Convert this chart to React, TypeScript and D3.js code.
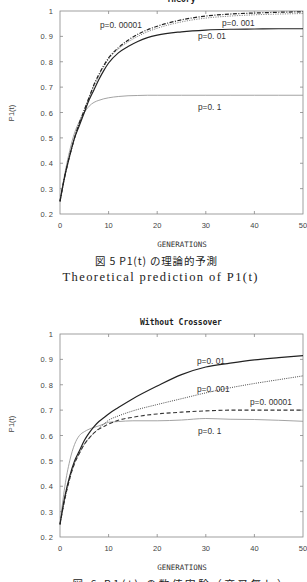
import React from "react";
import * as d3 from "d3";

// ---------- data ----------
const xTicks = [0, 10, 20, 30, 40, 50];
const yTicks = [0.2, 0.3, 0.4, 0.5, 0.6, 0.7, 0.8, 0.9, 1];

// Panel 1: theory
const genTheory = [0, 1, 2, 3, 4, 5, 6, 7, 8, 9, 10, 12, 14, 16, 18, 20, 25, 30, 35, 40, 45, 50];
const theoryP00001 = [0.25, 0.35, 0.43, 0.5, 0.56, 0.61, 0.66, 0.71, 0.75, 0.785, 0.815, 0.855, 0.885, 0.908, 0.926, 0.94, 0.965, 0.98, 0.988, 0.992, 0.995, 0.997];
const theoryP0001 = [0.25, 0.35, 0.43, 0.5, 0.56, 0.61, 0.66, 0.705, 0.745, 0.78, 0.81, 0.85, 0.878, 0.9, 0.918, 0.932, 0.957, 0.972, 0.98, 0.985, 0.988, 0.99];
const theoryP001 = [0.25, 0.35, 0.43, 0.5, 0.55, 0.6, 0.65, 0.69, 0.73, 0.765, 0.795, 0.835, 0.86, 0.88, 0.895, 0.905, 0.918, 0.925, 0.928, 0.929, 0.93, 0.93];
const theoryP01 = [0.25, 0.36, 0.45, 0.52, 0.565, 0.6, 0.625, 0.64, 0.648, 0.654, 0.658, 0.663, 0.666, 0.667, 0.668, 0.668, 0.668, 0.668, 0.668, 0.668, 0.668, 0.668];

// Panel 2: without crossover
const genExp = [0, 1, 2, 3, 4, 5, 6, 7, 8, 9, 10, 12, 15, 20, 25, 30, 35, 40, 45, 50];
const expP001 = [0.25, 0.36, 0.44, 0.5, 0.54, 0.58, 0.61, 0.635, 0.655, 0.67, 0.685, 0.71, 0.745, 0.795, 0.84, 0.87, 0.885, 0.898, 0.907, 0.915];
const expP0001 = [0.25, 0.35, 0.43, 0.49, 0.53, 0.565, 0.59, 0.61, 0.628, 0.645, 0.66, 0.677, 0.697, 0.722, 0.745, 0.768, 0.788, 0.805, 0.82, 0.835];
const expP00001 = [0.25, 0.35, 0.43, 0.49, 0.53, 0.565, 0.59, 0.61, 0.625, 0.635, 0.645, 0.66, 0.672, 0.685, 0.692, 0.697, 0.7, 0.7, 0.7, 0.7];
const expP01 = [0.25, 0.4, 0.5, 0.565, 0.6, 0.615, 0.625, 0.632, 0.638, 0.645, 0.652, 0.655, 0.658, 0.658, 0.661, 0.667, 0.664, 0.663, 0.66, 0.656];

const xLabel = "GENERATIONS";
const yLabel = "P1(t)";

type Series = { gens: number[]; vals: number[]; stroke: string; width: number; dash?: string };
type Lbl = { text: string; x: number; y: number };

const MONO = "'DejaVu Sans Mono', monospace";
const SANS = "'Liberation Sans', Arial, sans-serif";

function Panel(props: {
  yTop: number;
  yBot: number;
  title: string;
  titleY: number;
  series: Series[];
  labels: Lbl[];
  yLabelY: number;
}) {
  const { yTop, yBot, title, titleY, series, labels, yLabelY } = props;
  const x = d3.scaleLinear().domain([0, 50]).range([60, 303]);
  const y = d3.scaleLinear().domain([0.2, 1]).range([yBot, yTop]);
  const fmt = (v: number) => (v === 1 ? "1" : d3.format(".1f")(v).replace(".", ". "));
  return (
    <g>
      <text x={181} y={titleY} textAnchor="middle" fontFamily={MONO} fontWeight="bold" fontSize={8} fill="#222">
        {title}
      </text>
      <rect x={x(0)} y={y(1)} width={x(50) - x(0)} height={y(0.2) - y(1)} fill="none" stroke="#888" strokeWidth={0.8} />
      {xTicks.slice(1, -1).map((t) => (
        <g key={"xt" + t}>
          <line x1={x(t)} x2={x(t)} y1={y(0.2)} y2={y(0.2) - 3} stroke="#888" strokeWidth={0.8} />
          <line x1={x(t)} x2={x(t)} y1={y(1)} y2={y(1) + 3} stroke="#888" strokeWidth={0.8} />
        </g>
      ))}
      {yTicks.slice(1, -1).map((t) => (
        <g key={"yt" + t}>
          <line x1={x(0)} x2={x(0) + 3} y1={y(t)} y2={y(t)} stroke="#888" strokeWidth={0.8} />
          <line x1={x(50)} x2={x(50) - 3} y1={y(t)} y2={y(t)} stroke="#888" strokeWidth={0.8} />
        </g>
      ))}
      {xTicks.map((t) => (
        <text key={"xl" + t} x={x(t)} y={yBot + 14} textAnchor="middle" fontFamily={SANS} fontSize={7.5} fill="#444">
          {t}
        </text>
      ))}
      {yTicks.map((t) => (
        <text key={"yl" + t} x={53} y={y(t) + 3} textAnchor="end" fontFamily={SANS} fontSize={7.5} fill="#444">
          {fmt(t)}
        </text>
      ))}
      <text x={182} y={yBot + 33} textAnchor="middle" fontFamily={MONO} fontSize={7.5} fill="#333">
        {xLabel}
      </text>
      <text
        transform={`translate(14,${yLabelY}) rotate(-90)`}
        textAnchor="middle"
        fontFamily={SANS}
        fontSize={7.5}
        fill="#444"
      >
        {yLabel}
      </text>
      {series.map((s, i) => {
        const line = d3
          .line<number>()
          .x((_, j) => x(s.gens[j]))
          .y((v) => y(v))
          .curve(d3.curveMonotoneX);
        return (
          <path
            key={"s" + i}
            d={line(s.vals) || ""}
            fill="none"
            stroke={s.stroke}
            strokeWidth={s.width}
            strokeDasharray={s.dash}
          />
        );
      })}
      {labels.map((l, i) => (
        <text key={"lb" + i} x={l.x} y={l.y} fontFamily={SANS} fontSize={8.3} fill="#333">
          {l.text}
        </text>
      ))}
    </g>
  );
}

export default function App() {
  return (
    <svg width={307} height={582} style={{ position: "absolute", left: 0, top: 0, background: "#fff" }}>
      <rect width={307} height={582} fill="#fff" />
      <Panel
        yTop={11}
        yBot={214}
        title="Theory"
        titleY={2}
        yLabelY={113}
        series={[
          { gens: genTheory, vals: theoryP01, stroke: "#999", width: 0.9 },
          { gens: genTheory, vals: theoryP0001, stroke: "#888", width: 1, dash: "1.2,1.2" },
          { gens: genTheory, vals: theoryP00001, stroke: "#222", width: 1.2, dash: "4,1.5,1,1.5" },
          { gens: genTheory, vals: theoryP001, stroke: "#222", width: 1.2 },
        ]}
        labels={[
          { text: "p=0. 00001", x: 100, y: 28 },
          { text: "p=0. 001", x: 222, y: 26 },
          { text: "p=0. 01", x: 198, y: 39 },
          { text: "p=0. 1", x: 198, y: 110 },
        ]}
      />
      <text x={156} y={265} textAnchor="middle" fontFamily="'Noto Sans CJK JP', serif" fontSize={10.5} fill="#222" textLength={122}>
        図 5  P1(t) の理論的予測
      </text>
      <text x={160} y={281} textAnchor="middle" fontFamily="'Liberation Serif', serif" fontSize={12.5} fill="#222" textLength={195}>
        Theoretical prediction of P1(t)
      </text>
      <Panel
        yTop={334}
        yBot={537}
        title="Without Crossover"
        titleY={325}
        yLabelY={424}
        series={[
          { gens: genExp, vals: expP01, stroke: "#999", width: 0.9 },
          { gens: genExp, vals: expP0001, stroke: "#333", width: 0.9, dash: "1,1.2" },
          { gens: genExp, vals: expP00001, stroke: "#333", width: 1.1, dash: "4,2.5" },
          { gens: genExp, vals: expP001, stroke: "#222", width: 1.2 },
        ]}
        labels={[
          { text: "p=0. 01", x: 197, y: 364 },
          { text: "p=0. 001", x: 197, y: 392 },
          { text: "p=0. 00001", x: 250, y: 405 },
          { text: "p=0. 1", x: 198, y: 434 },
        ]}
      />
      <text x={180} y={588} textAnchor="middle" fontFamily="'Noto Sans CJK JP', sans-serif" fontSize={10.5} fill="#222" textLength={215}>
        図 6  P1(t) の数値実験（交叉無し）
      </text>
    </svg>
  );
}
